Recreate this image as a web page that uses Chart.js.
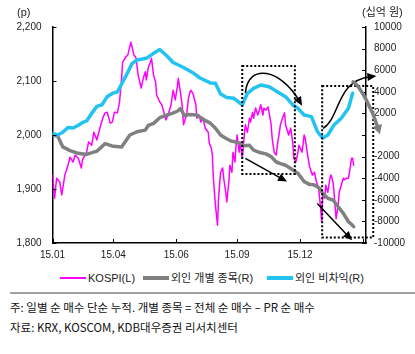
<!DOCTYPE html>
<html>
<head>
<meta charset="utf-8">
<script src="https://cdn.jsdelivr.net/npm/chart.js@4/dist/chart.umd.min.js"></script>
<style>
  body { margin: 0; width: 415px; height: 354px; position: relative; background: #fff; overflow: hidden;
         font-family: 'Liberation Sans', 'Noto Sans CJK KR', sans-serif; color: #222; }
  .abs { position: absolute; white-space: nowrap; }
  .unit { font-size: 11px; line-height: 14px; }
  .leg { font-size: 11px; line-height: 14px; top: 271px; }
  .sw { position: absolute; width: 26px; }
  .note { left: 10px; font-size: 11.5px; line-height: 16px; color: #111;
          font-family: 'Liberation Sans Narrow', 'Noto Sans CJK KR', sans-serif; }
</style>
</head>
<body>
<canvas id="c" width="415" height="265" class="abs" style="left:0;top:0"></canvas>
<div class="abs unit" style="left:17px;top:5px">(p)</div>
<div class="abs unit" style="left:362px;top:5px">(십억 원)</div>
<div id="legend"></div>
<div class="abs" style="left:10px;right:0;top:292px;height:2px;background:#a0a0a0"></div>
<div class="abs note" style="top:299px">주: 일별 순 매수 단순 누적. 개별 종목 = 전체 순 매수 – PR 순 매수</div>
<div class="abs note" style="top:319px">자료: KRX, KOSCOM, KDB대우증권 리서치센터</div>
<script>
// x = trading day index from 2015-01-02
const tickDays = [0, 59, 120, 179, 240, 301];
const tickLabels = ['15.01', '15.04', '15.06', '15.09', '15.12', ''];

const seriesNames = ['KOSPI(L)', '외인 개별 종목(R)', '외인 비차익(R)'];
const seriesColors = ['#ff00ff', '#808080', '#22c3f2'];

const kospiDays = [0,2,4,7,9,12,15,17,20,22,25,28,29,33,35,38,40,43,46,49,51,53,56,58,60,63,65,67,68,71,73,76,79,81,83,86,88,90,91,93,95,96,98,100,101,104,106,108,110,112,115,117,119,121,122,124,126,127,130,132,134,136,139,140,142,144,146,148,151,152,154,155,156,158,160,161,163,165,166,168,169,171,172,174,175,177,178,179,181,182,184,186,187,189,191,192,194,195,197,199,200,202,204,205,207,209,210,212,213,215,217,218,220,221,223,225,226,229,231,233,234,236,238,239,242,244,245,247,249,251,252,254,256,258,260,261,262,264,265,267,269,270,272,273,275,277,278,280,282,283,285,287,288,290,291,292];
const kospiValues = [1926,1883,1920,1913,1889,1926,1944,1959,1950,1963,1957,1939,1954,1968,1987,1981,2005,1991,2013,2033,2041,2042,2022,2024,2042,2041,2061,2105,2135,2144,2148,2172,2148,2143,2111,2087,2105,2117,2102,2126,2135,2142,2111,2098,2074,2061,2056,2042,2028,2037,2056,2083,2065,2089,2105,2080,2050,2019,2037,2070,2083,2078,2056,2031,2037,2024,2031,2013,2005,1985,1976,1963,1920,1870,1833,1883,1931,1939,1920,1894,1876,1913,1944,1931,1968,1950,1981,2000,1968,1987,1957,2000,2019,2005,2031,2024,2042,2031,2050,2037,2042,2056,2037,2050,2046,2052,2042,2019,1994,1968,1963,1981,2005,2019,2031,2041,2019,2000,2013,1985,1957,1950,1968,1981,1968,2000,1994,1968,1944,1931,1926,1931,1913,1902,1865,1839,1889,1883,1907,1894,1920,1926,1913,1894,1845,1870,1894,1907,1920,1917,1920,1920,1931,1957,1957,1944];

const stockDays = [0,5,10,17,25,33,43,51,59,67,75,82,90,93,98,104,111,116,121,124,128,132,140,147,153,158,163,168,173,178,182,186,191,195,202,207,212,217,221,226,231,238,244,249,254,259,262,267,272,277,282,287,290,292];
const stockValues = [0,-100,-1100,-1450,-1700,-1800,-1500,-800,-1050,-1100,0,300,450,900,1080,1600,1850,2000,2200,2450,1800,1900,1850,1400,1100,620,0,-300,-560,-650,-800,-1000,-950,-1400,-1650,-1750,-2000,-2500,-2650,-2800,-3100,-3550,-4300,-4570,-4630,-4940,-5400,-5860,-6020,-6640,-7250,-8030,-8270,-8490];

const nonArbDays = [0,5,10,15,20,25,30,33,38,43,48,53,58,63,68,73,77,82,91,98,104,111,117,127,137,143,153,158,163,169,176,184,189,195,202,210,218,226,233,238,244,251,257,262,267,273,280,287,291];
const nonArbValues = [150,0,250,700,650,900,1200,1300,2000,2650,2800,3550,3850,4000,4900,5800,6600,6950,7100,7560,7920,7320,6710,6250,5710,5280,4820,4790,3800,3470,3400,2780,3860,4320,4630,4470,4010,3550,2780,2470,1850,1700,300,-280,0,930,1550,2470,3860];

// annotations, in (day, right-axis value)
const boxAreas = [[184, 235, 6400, -3600], [261.5, 311, 4530, -9500]];
const curveArrows = [
  [[187, 3900], [190, 6800], [222, 6000], [242, 2700]],
  [[262.3, 607], [279, 1562], [275.2, 5077], [314.1, 5460]]
];
const lineArrows = [[[187, -2160], [227.4, -4310]], [[256.8, -6347], [290.5, -9750]]];
const grayArrow = [[291.5, 4928], [298.5, 4530], [310.2, 2300], [317.5, 80]];

const pts = (days, vals) => days.map((d, i) => ({ x: d, y: vals[i] }));

// legend
const legendPos = [60, 143, 267];
const legendWidth = [2, 4, 4];
document.getElementById('legend').innerHTML = seriesNames.map((n, i) =>
  `<div class="sw" style="left:${legendPos[i]}px;top:${278 - legendWidth[i] / 2}px;height:${legendWidth[i]}px;background:${seriesColors[i]}"></div>` +
  `<div class="abs leg" style="left:${legendPos[i] + 28}px">${n}</div>`).join('');

const arrowHead = (ctx, from, to, len, half) => {
  const a = Math.atan2(to[1] - from[1], to[0] - from[0]);
  ctx.beginPath();
  ctx.moveTo(to[0], to[1]);
  ctx.lineTo(to[0] - len * Math.cos(a) + half * Math.sin(a), to[1] - len * Math.sin(a) - half * Math.cos(a));
  ctx.lineTo(to[0] - len * Math.cos(a) - half * Math.sin(a), to[1] - len * Math.sin(a) + half * Math.cos(a));
  ctx.closePath();
  ctx.fill();
};

const decor = {
  id: 'decor',
  afterDraw(chart) {
    const { ctx, chartArea: a, scales: { x, y, y1 } } = chart;
    const P = p => [x.getPixelForValue(p[0]), y1.getPixelForValue(p[1])];
    ctx.save();
    // inward ticks
    ctx.strokeStyle = '#000';
    ctx.lineWidth = 1;
    ctx.beginPath();
    y.ticks.forEach(t => { const p = Math.round(y.getPixelForValue(t.value)) + 0.5; ctx.moveTo(a.left, p); ctx.lineTo(a.left + 4, p); });
    y1.ticks.forEach(t => { const p = Math.round(y1.getPixelForValue(t.value)) + 0.5; ctx.moveTo(a.right, p); ctx.lineTo(a.right - 4, p); });
    x.ticks.forEach(t => { const p = Math.round(x.getPixelForValue(t.value)) + 0.5; ctx.moveTo(p, a.bottom); ctx.lineTo(p, a.bottom - 4); });
    ctx.stroke();

    // dotted boxes
    ctx.setLineDash([2, 2]);
    ctx.lineWidth = 2;
    boxAreas.forEach(b => {
      const l = x.getPixelForValue(b[0]), r = x.getPixelForValue(b[1]);
      const t = y1.getPixelForValue(b[2]), btm = y1.getPixelForValue(b[3]);
      ctx.strokeRect(l, t, r - l, btm - t);
    });
    ctx.setLineDash([]);

    // black arrows
    ctx.strokeStyle = '#000';
    ctx.fillStyle = '#000';
    ctx.lineWidth = 1.5;
    curveArrows.forEach(c => {
      const q = c.map(P);
      ctx.beginPath();
      ctx.moveTo(q[0][0], q[0][1]);
      ctx.bezierCurveTo(q[1][0], q[1][1], q[2][0], q[2][1], q[3][0] - (q[3][0] - q[2][0]) * 0.15, q[3][1] - (q[3][1] - q[2][1]) * 0.15);
      ctx.stroke();
      arrowHead(ctx, q[2], q[3], 9, 4);
    });
    lineArrows.forEach(l => {
      const q = l.map(P);
      const k = 0.85;
      ctx.beginPath();
      ctx.moveTo(q[0][0], q[0][1]);
      ctx.lineTo(q[0][0] + (q[1][0] - q[0][0]) * k, q[0][1] + (q[1][1] - q[0][1]) * k);
      ctx.stroke();
      arrowHead(ctx, q[0], q[1], 9, 4);
    });

    // gray arrow
    const g = grayArrow.map(P);
    ctx.strokeStyle = seriesColors[1];
    ctx.fillStyle = seriesColors[1];
    ctx.lineWidth = 3.5;
    ctx.lineCap = 'round';
    ctx.beginPath();
    ctx.moveTo(g[0][0], g[0][1]);
    ctx.bezierCurveTo(g[1][0], g[1][1], g[2][0], g[2][1], g[3][0] - (g[3][0] - g[2][0]) * 0.3, g[3][1] - (g[3][1] - g[2][1]) * 0.3);
    ctx.stroke();
    arrowHead(ctx, g[2], g[3], 9, 5);
    ctx.restore();
  }
};

const tickFont = { family: "'Liberation Sans', Arial, sans-serif", size: 10 };

new Chart(document.getElementById('c'), {
  type: 'line',
  data: {
    datasets: [
      { label: seriesNames[0], data: pts(kospiDays, kospiValues), yAxisID: 'y', borderColor: seriesColors[0], borderWidth: 1.5, order: 3 },
      { label: seriesNames[1], data: pts(stockDays, stockValues), yAxisID: 'y1', borderColor: seriesColors[1], borderWidth: 3.5, order: 2 },
      { label: seriesNames[2], data: pts(nonArbDays, nonArbValues), yAxisID: 'y1', borderColor: seriesColors[2], borderWidth: 3.5, order: 1 }
    ]
  },
  options: {
    responsive: false,
    animation: false,
    parsing: true,
    elements: { point: { radius: 0 }, line: { tension: 0, borderJoinStyle: 'round', borderCapStyle: 'round' } },
    layout: { padding: { top: 27, left: 0, right: 0, bottom: 0 } },
    plugins: { legend: { display: false }, tooltip: { enabled: false } },
    scales: {
      x: {
        type: 'linear', min: 0, max: 304,
        afterBuildTicks: s => { s.ticks = tickDays.map(v => ({ value: v })); },
        afterFit: s => { s.height = 22; },
        grid: { drawOnChartArea: false, drawTicks: false },
        border: { color: '#000', width: 1.5 },
        ticks: { autoSkip: false, maxRotation: 0, padding: 6, color: '#222', font: tickFont,
                 callback: (v, i) => tickLabels[i] }
      },
      y: {
        position: 'left', min: 1800, max: 2200,
        afterFit: s => { s.width = 52.5; },
        grid: { drawOnChartArea: false, drawTicks: false },
        border: { color: '#000', width: 1.5 },
        ticks: { stepSize: 100, padding: 11, color: '#222', font: tickFont,
                 callback: v => v.toLocaleString('en-US') }
      },
      y1: {
        position: 'right', min: -10000, max: 10000,
        afterFit: s => { s.width = 49; },
        grid: { drawOnChartArea: false, drawTicks: false },
        border: { color: '#000', width: 1.5 },
        ticks: { stepSize: 2000, padding: 8, color: '#222', font: tickFont,
                 callback: v => (v === 0 ? '' : String(v)) }
      }
    }
  },
  plugins: [decor]
});
</script>
</body>
</html>
